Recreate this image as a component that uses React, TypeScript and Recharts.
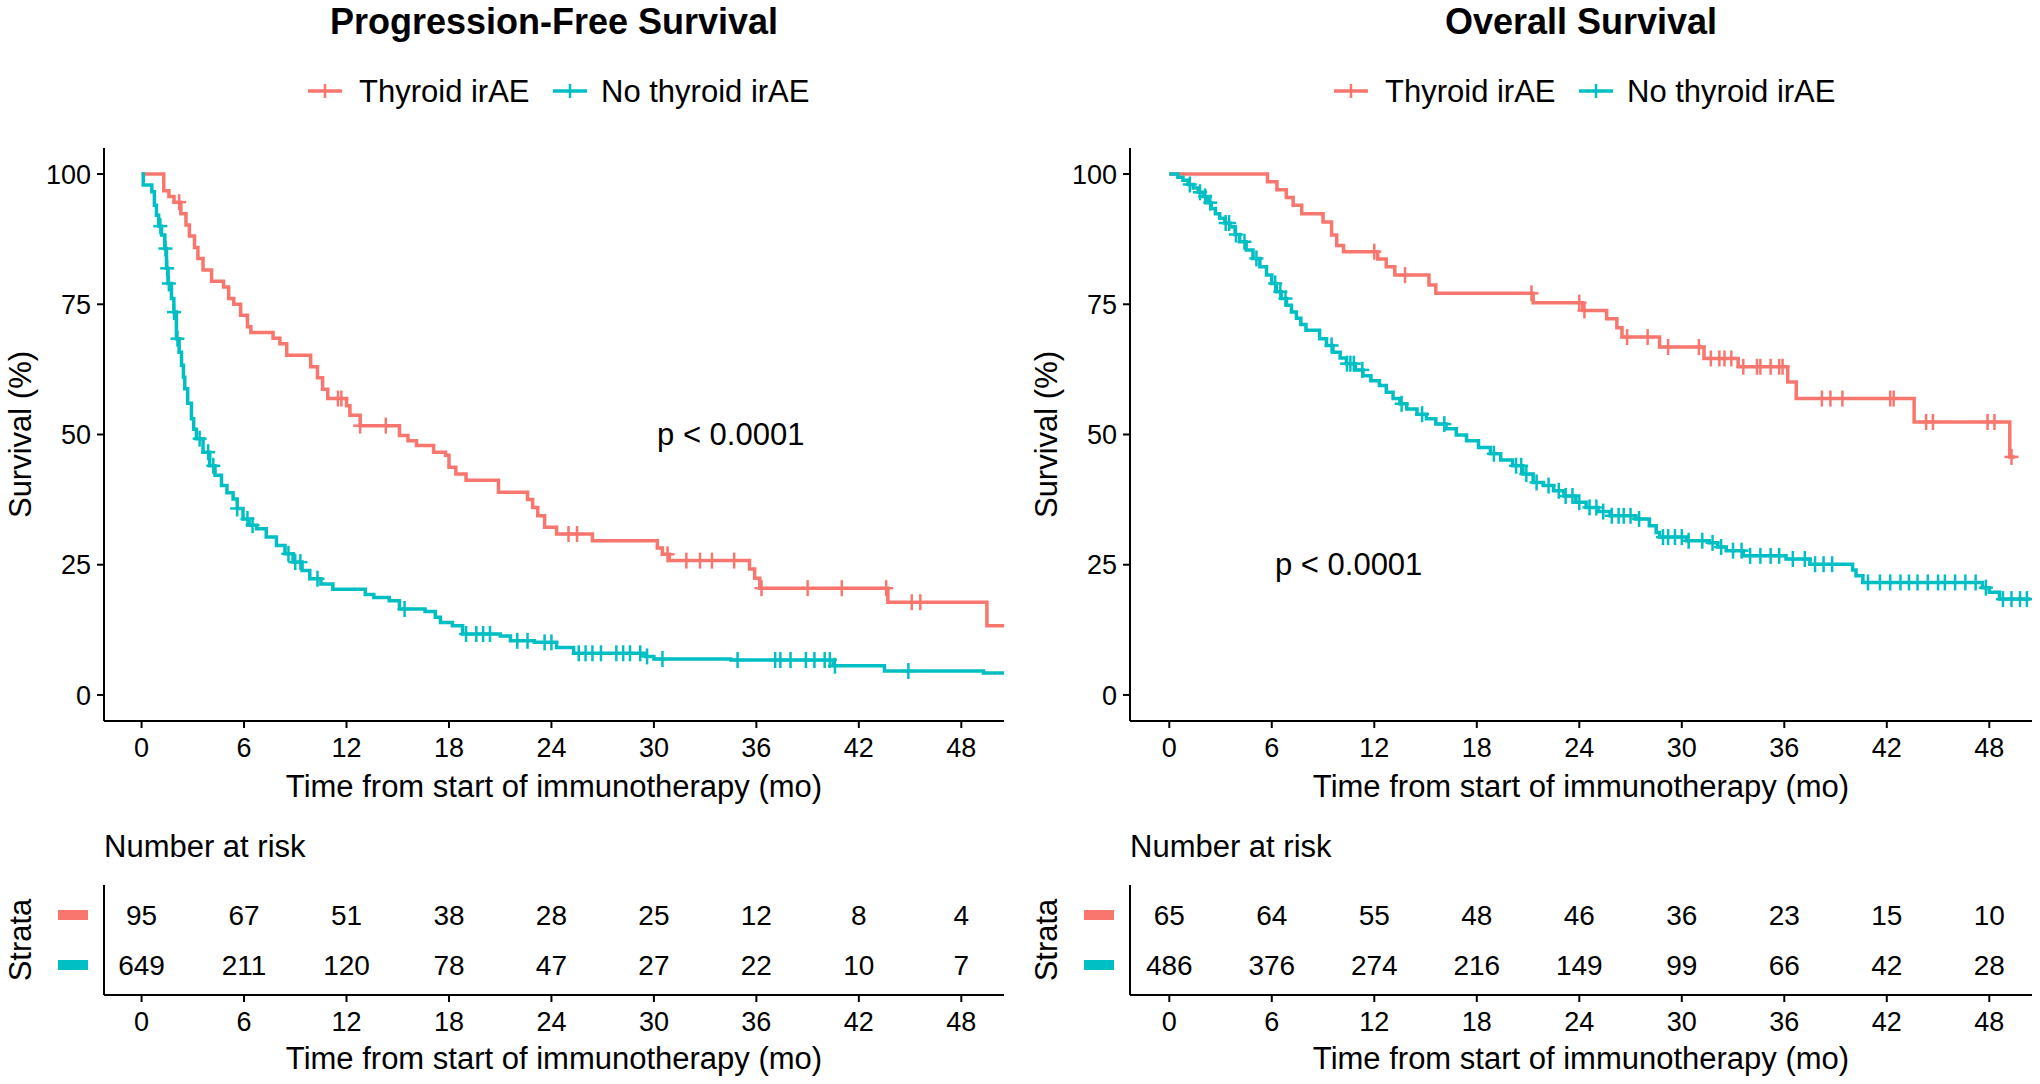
import { ComposedChart, Line, Scatter, XAxis, YAxis } from 'recharts'

const RED = '#F8766D'
const TEAL = '#00BFC4'
const FONT = '"Liberation Sans", Arial, Helvetica, sans-serif'

const groups = ['Thyroid irAE', 'No thyroid irAE']
const monthTicks = [0, 6, 12, 18, 24, 30, 36, 42, 48]
const survivalTicks = [0, 25, 50, 75, 100]
const xTitle = 'Time from start of immunotherapy (mo)'

// KM steps: [month, survival %], value holds from that month on
const pfsThyroid = [
  [0, 100], [1.3, 96.8], [1.6, 95.7], [1.9, 94.6], [2.3, 92.4], [2.6, 90.2], [2.8, 88.1], [3.1, 85.9],
  [3.3, 83.8], [3.6, 81.6], [4.1, 79.4], [4.8, 78.3], [5.1, 76.1], [5.4, 75.0], [5.8, 72.9], [6.2, 70.7],
  [6.4, 69.6], [7.7, 68.5], [8.1, 67.4], [8.5, 65.2], [9.9, 63.0], [10.3, 60.9], [10.6, 58.7], [10.9, 56.9],
  [12.0, 55.5], [12.2, 53.7], [12.8, 51.7], [15.1, 49.8], [15.6, 48.8], [16.1, 47.9], [17.1, 46.6],
  [17.8, 46.0], [18.0, 43.7], [18.4, 42.4], [19.0, 41.2], [20.9, 38.9], [22.6, 37.5], [22.9, 36.0],
  [23.2, 34.4], [23.6, 32.2], [24.3, 30.9], [26.4, 29.6], [30.2, 28.2], [30.5, 27.0], [30.9, 25.8],
  [35.6, 24.2], [35.9, 22.4], [36.2, 20.5], [43.7, 17.8], [49.5, 13.3], [50.6, 13.3],
]
const pfsThyroidCensor = [
  2.2, 11.5, 11.7, 12.8, 14.3, 25.0, 25.5, 30.8, 31.9, 32.7, 33.4, 34.7, 36.3, 39.0, 41.0, 43.6, 45.1, 45.6,
]

const pfsNoThyroid = [
  [0, 100], [0.1, 97.9], [0.6, 96.6], [0.75, 94.0], [0.87, 92.1], [1.0, 90.0], [1.17, 88.3], [1.36, 85.7],
  [1.46, 81.9], [1.55, 79.0], [1.75, 76.1], [1.89, 73.5], [2.04, 68.4], [2.2, 65.8], [2.34, 63.3],
  [2.45, 61.0], [2.53, 58.8], [2.7, 56.0], [2.92, 53.0], [3.05, 51.0], [3.21, 49.2], [3.6, 46.6],
  [3.99, 44.0], [4.3, 42.2], [4.68, 40.2], [5.0, 38.8], [5.36, 37.6], [5.6, 35.8], [5.94, 33.8],
  [6.3, 32.6], [6.73, 31.9], [7.3, 30.3], [7.9, 28.7], [8.4, 27.1], [8.87, 25.5], [9.4, 23.9],
  [9.85, 22.3], [10.5, 21.3], [11.2, 20.3], [13.1, 19.3], [13.6, 18.7], [14.5, 18.1], [15.1, 16.5],
  [16.6, 16.0], [17.2, 14.9], [17.5, 13.9], [18.2, 13.3], [18.8, 11.7], [21.0, 11.3], [21.6, 10.4],
  [23.0, 10.1], [24.3, 9.1], [25.3, 8.0], [29.5, 7.4], [30.0, 6.9], [34.5, 6.7], [40.5, 5.6],
  [43.5, 4.6], [49.3, 4.2], [50.6, 4.2],
]
const pfsNoThyroidCensor = [
  1.1, 1.4, 1.5, 1.6, 1.9, 2.1, 3.4, 3.9, 4.2, 5.6, 6.2, 6.5, 8.6, 9.0, 9.3, 10.3, 15.4, 19.0, 19.6, 20.0,
  20.4, 22.0, 22.6, 23.6, 24.0, 25.6, 26.0, 26.4, 26.9, 27.8, 28.2, 28.6, 29.2, 29.6, 30.5, 34.9, 37.1,
  37.4, 38.0, 38.9, 39.4, 40.0, 40.3, 40.6, 44.9,
]

const osThyroid = [
  [0, 100], [5.75, 98.5], [6.3, 97.0], [6.85, 95.5], [7.25, 94.0], [7.75, 92.4], [9.0, 90.8], [9.5, 88.3],
  [9.8, 86.3], [10.2, 85.1], [12.2, 83.7], [12.7, 82.2], [13.2, 80.6], [15.2, 78.7], [15.6, 77.1],
  [21.3, 75.3], [24.2, 73.8], [25.6, 72.2], [26.2, 70.5], [26.5, 68.7], [28.7, 66.8], [31.3, 64.6],
  [33.3, 63.0], [36.2, 60.1], [36.7, 56.9], [43.6, 52.4], [49.2, 45.7], [49.5, 45.7],
]
const osThyroidCensor = [
  12.0, 13.8, 21.2, 24.0, 24.3, 26.8, 28.0, 29.2, 31.0, 31.7, 32.2, 32.5, 32.9, 33.6, 34.4, 34.6, 35.2,
  35.7, 35.9, 38.2, 38.7, 39.4, 42.2, 42.4, 44.3, 44.7, 47.9, 48.3, 49.3,
]

const osNoThyroid = [
  [0, 100], [0.5, 99.4], [0.8, 98.8], [1.1, 98.0], [1.4, 97.3], [1.7, 96.5], [2.0, 95.7], [2.25, 94.5],
  [2.46, 93.4], [2.7, 92.4], [2.95, 91.5], [3.25, 90.6], [3.54, 89.9], [3.85, 88.4], [4.12, 87.0],
  [4.5, 85.4], [4.9, 83.8], [5.3, 82.2], [5.69, 80.6], [6.0, 79.0], [6.27, 77.4], [6.55, 76.1],
  [6.86, 74.8], [7.15, 73.5], [7.44, 72.3], [7.7, 71.1], [8.0, 70.0], [8.8, 68.4], [9.2, 67.1],
  [9.58, 65.8], [10.0, 64.7], [10.37, 63.6], [10.9, 62.4], [11.34, 61.3], [11.8, 60.3], [12.3, 59.4],
  [12.7, 58.1], [13.1, 56.9], [13.5, 55.9], [13.9, 54.9], [14.5, 53.9], [15.05, 53.0], [15.6, 52.0],
  [16.2, 51.1], [16.8, 49.9], [17.4, 48.8], [18.1, 47.5], [18.8, 46.3], [19.4, 45.1], [20.1, 44.0],
  [20.7, 42.4], [21.3, 40.8], [21.9, 40.2], [22.5, 39.2], [23.1, 38.2], [23.8, 37.0], [24.4, 36.0],
  [25.1, 35.2], [25.8, 34.4], [27.3, 33.8], [28.1, 32.5], [28.5, 31.2], [28.7, 30.3], [30.3, 29.6],
  [31.6, 29.2], [32.1, 28.4], [32.6, 27.7], [33.6, 26.7], [36.1, 26.1], [37.5, 25.1], [40.0, 24.0],
  [40.2, 22.9], [40.6, 21.6], [47.6, 20.6], [48.0, 19.7], [48.6, 18.4], [50.4, 18.4],
]
const osNoThyroidCensor = [
  1.2, 1.8, 2.1, 2.4, 3.3, 3.5, 3.9, 4.4, 5.1, 6.2, 6.5, 6.8, 9.5, 10.4, 10.6, 10.8, 11.3, 13.6, 14.8,
  16.1, 19.0, 20.3, 20.6, 20.9, 21.5, 22.2, 22.8, 23.2, 23.6, 24.0, 24.6, 25.0, 25.4, 25.9, 26.3, 26.6,
  27.0, 27.5, 28.9, 29.2, 29.6, 30.0, 30.4, 31.2, 31.8, 32.3, 33.0, 33.5, 34.0, 34.6, 35.2, 35.7, 36.5,
  37.2, 37.8, 38.3, 38.8, 40.9, 41.6, 42.2, 42.8, 43.3, 43.8, 44.4, 45.0, 45.4, 46.0, 46.6, 47.2, 47.8,
  48.8, 49.3, 49.8, 50.2,
]

// number at risk at each month tick
const pfsRiskThyroid = [95, 67, 51, 38, 28, 25, 12, 8, 4]
const pfsRiskNoThyroid = [649, 211, 120, 78, 47, 27, 22, 10, 7]
const osRiskThyroid = [65, 64, 55, 48, 46, 36, 23, 15, 10]
const osRiskNoThyroid = [486, 376, 274, 216, 149, 99, 66, 42, 28]

const toPoints = (steps: number[][]) => steps.map(([t, s]) => ({ t, s }))

const survivalAt = (steps: number[][], time: number) => {
  let s = 100
  for (const [t, v] of steps) {
    if (t <= time) s = v
    else break
  }
  return s
}

const censorPoints = (steps: number[][], times: number[]) => times.map((t) => ({ t, s: survivalAt(steps, t) }))

const crossShape = (color: string) => (props: any) => {
  const { cx, cy } = props
  return (
    <g stroke={color} strokeWidth={2.5}>
      <line x1={cx - 7} x2={cx + 7} y1={cy} y2={cy} />
      <line x1={cx} x2={cx} y1={cy - 8} y2={cy + 8} />
    </g>
  )
}

const pValueShape = (props: any) => (
  <text x={props.cx} y={props.cy} textAnchor="middle" dominantBaseline="central" fontSize={31} fontFamily={FONT} fill="#000">
    p &lt; 0.0001
  </text>
)

const riskShape = (props: any) => (
  <text x={props.cx} y={props.cy} textAnchor="middle" dominantBaseline="central" fontSize={28} fontFamily={FONT} fill="#000">
    {props.payload.n}
  </text>
)

const strataTick = (props: any) => (
  <rect x={props.x - 30} y={props.y - 5} width={30} height={10} fill={props.payload.value === 2 ? RED : TEAL} />
)

const tickStyle = { fill: '#000', fontSize: 27, fontFamily: FONT }
const titleStyle = { fill: '#000', fontSize: 31, fontFamily: FONT }
const axisStroke = { stroke: '#000', strokeWidth: 2 }

function LegendKey({ color }: { color: string }) {
  return (
    <svg width={34} height={20} style={{ display: 'block' }}>
      <line x1={0} x2={34} y1={10} y2={10} stroke={color} strokeWidth={3.5} />
      <line x1={17} x2={17} y1={3} y2={17} stroke={color} strokeWidth={2.5} />
    </svg>
  )
}

type PanelProps = {
  left: number
  plotWidth: number
  xMin: number
  title: string
  thyroid: number[][]
  thyroidCensor: number[]
  noThyroid: number[][]
  noThyroidCensor: number[]
  pAt: { t: number; s: number }
  riskThyroid: number[]
  riskNoThyroid: number[]
}

function Panel(p: PanelProps) {
  const chartW = 104 + p.plotWidth + 14
  const domain: [number, number] = [p.xMin, 50.5]
  const riskRows = [
    ...monthTicks.map((t, i) => ({ t, row: 2, n: p.riskThyroid[i] })),
    ...monthTicks.map((t, i) => ({ t, row: 1, n: p.riskNoThyroid[i] })),
  ]
  const abs = (x: number, y: number) => ({ position: 'absolute' as const, left: x, top: y, whiteSpace: 'nowrap' as const })

  return (
    <div style={{ position: 'absolute', left: p.left - 104, top: 0, width: chartW, height: 1084 }}>
      <div style={{ ...abs(104 + p.plotWidth / 2, 22), transform: 'translate(-50%, -50%)', fontSize: 36, fontWeight: 'bold', lineHeight: 1 }}>
        {p.title}
      </div>
      <div style={{ ...abs(308, 81) }}><LegendKey color={RED} /></div>
      <div style={{ ...abs(359, 91), transform: 'translateY(-50%)', fontSize: 31, lineHeight: 1 }}>{groups[0]}</div>
      <div style={{ ...abs(553, 81) }}><LegendKey color={TEAL} /></div>
      <div style={{ ...abs(601, 91), transform: 'translateY(-50%)', fontSize: 31, lineHeight: 1 }}>{groups[1]}</div>

      <div style={abs(0, 0)}>
        <ComposedChart width={chartW} height={806} margin={{ top: 148, right: 14, bottom: 0, left: 10 }}>
          <XAxis
            type="number"
            dataKey="t"
            domain={domain}
            ticks={monthTicks}
            allowDataOverflow
            height={85}
            axisLine={axisStroke}
            tickLine={axisStroke}
            tickSize={7}
            tickMargin={10}
            tick={tickStyle}
            label={{ value: xTitle, position: 'insideBottom', offset: 9, style: titleStyle }}
          />
          <YAxis
            type="number"
            domain={[-5, 105]}
            ticks={survivalTicks}
            allowDataOverflow
            width={94}
            axisLine={axisStroke}
            tickLine={axisStroke}
            tickSize={7}
            tickMargin={6}
            tick={tickStyle}
            label={{ value: 'Survival (%)', angle: -90, position: 'insideLeft', offset: 10, style: { ...titleStyle, textAnchor: 'middle' } }}
          />
          <Line data={toPoints(p.thyroid)} dataKey="s" type="stepAfter" stroke={RED} strokeWidth={3.5} dot={false} isAnimationActive={false} />
          <Line data={toPoints(p.noThyroid)} dataKey="s" type="stepAfter" stroke={TEAL} strokeWidth={3.5} dot={false} isAnimationActive={false} />
          <Scatter data={censorPoints(p.thyroid, p.thyroidCensor)} dataKey="s" shape={crossShape(RED)} isAnimationActive={false} />
          <Scatter data={censorPoints(p.noThyroid, p.noThyroidCensor)} dataKey="s" shape={crossShape(TEAL)} isAnimationActive={false} />
          <Scatter data={[p.pAt]} dataKey="s" shape={pValueShape} isAnimationActive={false} />
        </ComposedChart>
      </div>

      <div style={{ ...abs(104, 846), transform: 'translateY(-50%)', fontSize: 31, lineHeight: 1 }}>Number at risk</div>

      <div style={abs(0, 860)}>
        <ComposedChart width={chartW} height={224} margin={{ top: 25, right: 14, bottom: 0, left: 10 }}>
          <XAxis
            type="number"
            dataKey="t"
            domain={domain}
            ticks={monthTicks}
            allowDataOverflow
            height={89}
            axisLine={axisStroke}
            tickLine={axisStroke}
            tickSize={7}
            tickMargin={10}
            tick={tickStyle}
            label={{ value: xTitle, position: 'insideBottom', offset: 15, style: titleStyle }}
          />
          <YAxis
            type="number"
            domain={[0.4, 2.6]}
            ticks={[1, 2]}
            width={94}
            axisLine={axisStroke}
            tickLine={false}
            tickSize={0}
            tickMargin={16}
            tick={strataTick}
            label={{ value: 'Strata', angle: -90, position: 'insideLeft', offset: 10, style: { ...titleStyle, textAnchor: 'middle' } }}
          />
          <Scatter data={riskRows} dataKey="row" shape={riskShape} isAnimationActive={false} />
        </ComposedChart>
      </div>
    </div>
  )
}

export default function App() {
  return (
    <div style={{ position: 'absolute', left: 0, top: 0, width: 2040, height: 1084, background: '#fff', overflow: 'hidden', fontFamily: FONT, color: '#000' }}>
      <Panel
        left={104}
        plotWidth={900}
        xMin={-2.2}
        title="Progression-Free Survival"
        thyroid={pfsThyroid}
        thyroidCensor={pfsThyroidCensor}
        noThyroid={pfsNoThyroid}
        noThyroidCensor={pfsNoThyroidCensor}
        pAt={{ t: 34.5, s: 50 }}
        riskThyroid={pfsRiskThyroid}
        riskNoThyroid={pfsRiskNoThyroid}
      />
      <Panel
        left={1130}
        plotWidth={902}
        xMin={-2.3}
        title="Overall Survival"
        thyroid={osThyroid}
        thyroidCensor={osThyroidCensor}
        noThyroid={osNoThyroid}
        noThyroidCensor={osNoThyroidCensor}
        pAt={{ t: 10.5, s: 25 }}
        riskThyroid={osRiskThyroid}
        riskNoThyroid={osRiskNoThyroid}
      />
    </div>
  )
}
